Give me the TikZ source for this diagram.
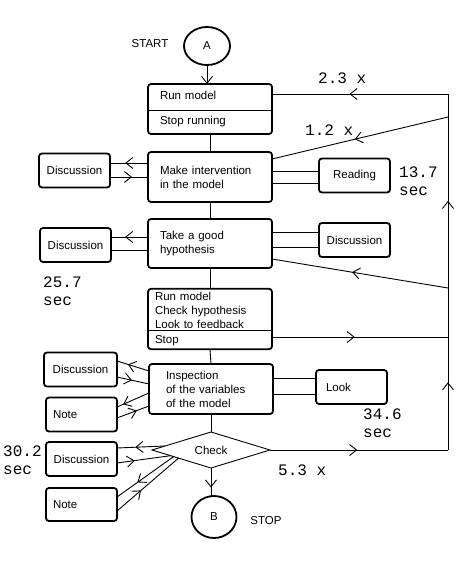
\documentclass[tikz,border=0pt]{standalone}
\usepackage{fontspec}
\setmainfont{Liberation Sans}
\setmonofont{Liberation Mono}
\usetikzlibrary{arrows.meta, shapes.geometric, decorations.markings}

\begin{document}
\begin{tikzpicture}[
  x=1pt, y=-1pt,
  box/.style={draw, line width=1.8pt, rounded corners=3pt, outer sep=0pt, minimum width=124pt, align=left, font=\fontsize{11.5}{14}\selectfont},
  sbox/.style={draw, line width=1.8pt, rounded corners=3pt, outer sep=0pt, minimum width=71pt, minimum height=34pt, font=\fontsize{11.5}{14}\selectfont},
  term/.style={draw, ellipse, line width=1.8pt, inner sep=0pt, outer sep=0pt, font=\fontsize{11.5}{14}\selectfont},
  decision/.style={draw, diamond, aspect=3.3, line width=0.9pt, minimum width=118pt, minimum height=36pt, inner sep=0pt, outer sep=0pt, font=\fontsize{11.5}{14}\selectfont},
  plain/.style={font=\fontsize{11.5}{14}\selectfont},
  count/.style={font=\ttfamily\fontsize{16}{18}\selectfont, align=left, anchor=west, inner sep=0pt},
  conn/.style={line width=0.9pt},
  endarrow/.style={conn, -{Straight Barb[length=7pt, width=11pt]}},
  mid arrow/.style={conn, postaction={decorate}, decoration={markings, mark=at position #1 with {\arrow{Straight Barb[length=7pt, width=11pt]}}}},
]
\fill[white] (0,0) rectangle (462,561);

% Nodes
\node[term, minimum width=46pt, minimum height=38pt] (startA) at (207,46) {A};
\node[plain] (startlbl) at (150,44) {START};

\node[box, minimum height=50pt, inner xsep=12pt, text width=100pt] (run) at (210,109) {Run model\\[11pt]Stop running};
\node[box, minimum height=50pt, inner xsep=12pt, text width=100pt] (intv) at (210,177) {Make intervention\\in the model};
\node[box, minimum height=49pt, inner xsep=12pt, text width=100pt] (hypo) at (210,243.5) {Take a good\\hypothesis};
\node[box, minimum height=58pt, inner xsep=7pt, text width=110pt] (runchk) at (210,319) {Run model\\Check hypothesis\\Look to feedback\\[1pt]Stop};
\node[box, minimum height=50pt, inner xsep=17pt, text width=90pt] (insp) at (211,389) {Inspection\\of the variables\\of the model};
\node[decision] (chk) at (211,450) {Check};

\node[term, minimum width=45pt, minimum height=42pt] (stopB) at (214,517) {B};
\node[plain] (stoplbl) at (266,521) {STOP};

\node[sbox] (disc1) at (74.5,170.5) {Discussion};
\node[sbox] (disc2) at (75.5,245) {Discussion};
\node[sbox, minimum width=73pt] (disc3) at (80.5,369.5) {Discussion};
\node[sbox, align=left, text width=57pt, inner xsep=7pt] (note1) at (81.5,414.5) {Note};
\node[sbox] (disc4) at (81.5,459) {Discussion};
\node[sbox, minimum height=33pt, align=left, text width=57pt, inner xsep=7pt] (note2) at (81.5,504.5) {Note};

\node[sbox] (read) at (354.5,175.5) {Reading};
\node[sbox] (discR) at (354.5,240) {Discussion};
\node[sbox, align=left, text width=51pt, inner xsep=10pt] (look) at (351.5,387) {Look};

% Times
\node[count] (t23) at (318,78) {2.3 x};
\node[count] (t12) at (305,130) {1.2 x};
\node[count] (t137) at (399,181) {13.7\\sec};
\node[count] (t257) at (43,291) {25.7\\sec};
\node[count] (t346) at (363,423) {34.6\\sec};
\node[count] (t302) at (3,460) {30.2\\sec};
\node[count] (t53) at (278,470) {5.3 x};

% Loop line
\coordinate (rtop) at (448,94);
\coordinate (rhi) at (448,117);
\coordinate (rmid1) at (448,288);
\coordinate (rmid2) at (448,337);
\coordinate (rbot) at (448,450);

% Arrows
\draw[endarrow] (startA) -- (startA |- run.north);
\draw[conn] (run.south) -- (intv.north);
\draw[conn] (intv.south) -- (hypo.north);
\draw[conn] (hypo.south) -- (runchk.north);
\draw[conn] (runchk.south) -- (insp.north);
\draw[conn] (insp.south) -- (chk.north);
\draw[mid arrow=0.7] (chk.south) -- (chk.south |- stopB.north);

\draw[mid arrow=0.6] ([yshift=14pt]intv.west) -- ([yshift=7.5pt]disc1.east);
\draw[mid arrow=0.58] ([yshift=-6.5pt]disc1.east) -- (intv.west);
\draw[conn] ([yshift=6pt]intv.east) -- ([yshift=4.5pt]read.west);
\draw[conn] ([yshift=-6pt]intv.east) -- ([yshift=-7.5pt]read.west);

\draw[mid arrow=0.62] ([yshift=6.5pt]hypo.west) -- ([yshift=8pt]disc2.east);
\draw[conn] ([yshift=-6.5pt]hypo.west) -- ([yshift=-5pt]disc2.east);
\draw[conn] ([yshift=11.5pt]hypo.east) -- ([yshift=8pt]discR.west);
\draw[conn] ([yshift=-3.5pt]hypo.east) -- ([yshift=-7pt]discR.west);

\draw[mid arrow=0.66] ([yshift=18pt]insp.west) -- ([yshift=8.5pt]disc3.east);
\draw[mid arrow=0.47] ([yshift=-7.5pt]disc3.east) -- ([yshift=5pt]insp.west);
\draw[mid arrow=0.81] ([yshift=-4pt]insp.west) -- ([yshift=7.5pt]note1.east);
\draw[mid arrow=0.62] ([yshift=-3.5pt]note1.east) -- ([yshift=-17pt]insp.west);
\draw[conn] ([yshift=11pt]insp.east) -- ([yshift=9pt]look.west);
\draw[conn] ([yshift=-5pt]insp.east) -- ([yshift=-7pt]look.west);

\draw[mid arrow=0.62] (chk.175) -- ([yshift=11pt]disc4.east);
\draw[mid arrow=0.33] ([yshift=-4pt]disc4.east) -- (chk.188);
\draw[mid arrow=0.64] (chk.190) -- ([yshift=7.5pt]note2.east);
\draw[mid arrow=0.39] ([yshift=-6.5pt]note2.east) -- (chk.194);

\draw[mid arrow=0.56] (rtop) -- ([yshift=15pt]run.east);
\draw[mid arrow=0.53] (rhi) -- ([yshift=18pt]intv.east);
\draw[mid arrow=0.545] (rmid1) -- ([yshift=-15.5pt]hypo.east);
\draw[mid arrow=0.47] ([yshift=-18pt]runchk.east) -- (rmid2);
\draw[mid arrow=0.49] (chk.east) -- (rbot);

\draw[mid arrow=0.6] (rbot) -- (rmid2);
\draw[conn] (rmid2) -- (rmid1);
\draw[mid arrow=0.51] (rmid1) -- (rhi);
\draw[conn] (rhi) -- (rtop);

% Dividers
\draw[conn] ([yshift=-26.7pt]run.north west) -- ([yshift=-26.7pt]run.north east);
\draw[conn] ([yshift=-42pt]runchk.north west) -- ([yshift=-42pt]runchk.north east);

\end{tikzpicture}
\end{document}
